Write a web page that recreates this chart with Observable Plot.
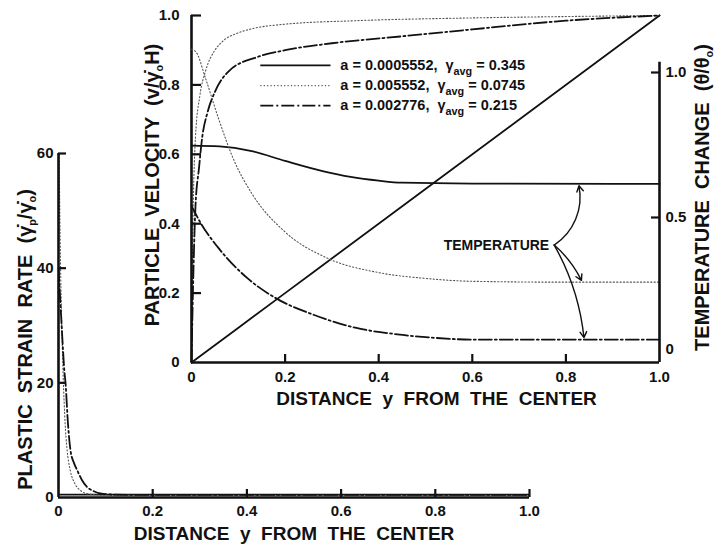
<!DOCTYPE html>
<html><head><meta charset="utf-8">
<script src="https://cdn.jsdelivr.net/npm/d3@7"></script>
<script src="https://cdn.jsdelivr.net/npm/@observablehq/plot@0.6"></script>
<style>
html,body{margin:0;padding:0;background:#fff;}
#wrap{position:relative;width:715px;height:548px;overflow:hidden;background:#fff;}
#wrap svg{position:absolute;left:0;top:0;background:transparent;overflow:visible;}
</style></head><body><div id="wrap"></div>
<script>
// ---------- data ----------
const distTicks = [0, 0.2, 0.4, 0.6, 0.8, 1.0];
const strainTicks = [0, 20, 40, 60];
const velocityTicks = [0, 0.2, 0.4, 0.6, 0.8, 1.0];
const tempTicks = [0.5, 1.0];
const tempZeroTick = [0];

// particle velocity v/(γ0 H) vs distance y
const velSolid = [[0,0],[0.2,0.2],[0.5,0.5],[1,1]];
const velDotted = [[0,0],[0.002,0.3],[0.0085,0.65],[0.018,0.77],[0.03,0.84],[0.05,0.9],[0.066,0.925],[0.1,0.95],[0.13,0.962],[0.2,0.975],[0.35,0.985],[0.6,0.993],[0.8,0.997],[1,1]];
const velDashDot = [[0,0],[0.003,0.2],[0.0085,0.45],[0.016,0.56],[0.023,0.65],[0.034,0.72],[0.05,0.78],[0.08,0.84],[0.14,0.88],[0.2,0.9],[0.3,0.92],[0.45,0.94],[0.6,0.96],[0.8,0.985],[1,1]];

// temperature change θ/θ0 vs distance y
const tempSolid = [[0,0.748],[0.06,0.745],[0.126,0.73],[0.2,0.695],[0.28,0.66],[0.34,0.64],[0.4,0.627],[0.45,0.62],[0.6,0.617],[1,0.616]];
const tempDotted = [[0,1.08],[0.01,1.07],[0.03,0.98],[0.058,0.84],[0.09,0.7],[0.13,0.58],[0.2,0.45],[0.29,0.36],[0.4,0.31],[0.5,0.29],[0.6,0.28],[0.8,0.277],[1,0.277]];
const tempDashDot = [[0,0.54],[0.02,0.48],[0.06,0.39],[0.12,0.29],[0.18,0.222],[0.26,0.165],[0.35,0.12],[0.44,0.097],[0.52,0.085],[0.6,0.079],[0.8,0.079],[1,0.079]];

// plastic strain rate γp/γ0 vs distance y
const strainSolid = [[0,0.5],[1,0.5]];
const strainDotted = [[0,70],[0.002,55],[0.004,42],[0.007,30],[0.01,21],[0.014,13],[0.018,8.5],[0.025,4.7],[0.035,2.4],[0.047,1.2],[0.065,0.6],[0.1,0.4],[1,0.4]];
const strainDashDot = [[0,40],[0.004,34],[0.008,28],[0.0125,22],[0.0149,20],[0.02,13],[0.0255,8.2],[0.033,6],[0.04,4.7],[0.05,3],[0.061,1.8],[0.075,1.1],[0.089,0.7],[0.12,0.5],[0.2,0.45],[1,0.45]];

const seriesLabels = ["a = 0.0005552,  γ_{avg} = 0.345", "a = 0.005552,  γ_{avg} = 0.0745", "a = 0.002776,  γ_{avg} = 0.215"];
const xTitle = "DISTANCE  y  FROM  THE  CENTER";
const strainTitle = "PLASTIC  STRAIN  RATE  (γ̇_{p}/γ̇_{o})";
const velTitle = "PARTICLE  VELOCITY  (v/γ̇_{o}H)";
const tempTitle = "TEMPERATURE  CHANGE  (θ/θ_{o})";
const annotationLabel = "TEMPERATURE";
const annotationPoint = [0.775, 0.405];          // where the arrows start (distance, θ/θ0)
const annotationTargetX = [0.827, 0.835, 0.839]; // distance where each arrow meets its curve

// ---------- styles / layout ----------
const INK = "#111";
const FONT = "'Liberation Sans', Arial, sans-serif";
const styleOf = {
  solid: {stroke: INK, strokeWidth: 1.8},
  dotted: {stroke: "#555", strokeWidth: 1.1, strokeDasharray: "1.2,2.2"},
  dashdot: {stroke: INK, strokeWidth: 1.8, strokeDasharray: "13,3,2,3"}
};
const W = 715, H = 548;
const fmt = d => d === 0 ? "0" : d.toFixed(1);
const baseStyle = {background: "transparent", fontFamily: FONT, fontSize: "15px", fontWeight: "bold", color: INK, overflow: "visible"};
const TITLE = 19, VTITLE = 20;
const AXW = 2.6, TKW = 2.2;

const bm = {l: 58, r: 186, t: 153, b: 51};   // bottom chart margins
const im = {l: 191, r: 56, t: 15, b: 186};   // inset (velocity) margins
const tm = {l: 191, r: 56, t: 72, b: 186};   // inset (temperature) margins
const fw = m => W - m.l - m.r, fh = m => H - m.t - m.b;

function richText(svg) {
  d3.select(svg).selectAll("text").each(function () {
    const s = this.textContent;
    if (!s.includes("_{")) return;
    const fs = parseFloat(getComputedStyle(this).fontSize) || 15;
    const el = d3.select(this);
    el.text(null);
    const re = /_\{([^}]*)\}/g;
    let last = 0, m, shifted = false;
    while ((m = re.exec(s))) {
      if (m.index > last) {
        const t = el.append("tspan").text(s.slice(last, m.index));
        if (shifted) t.attr("dy", -fs * 0.3);
        shifted = false;
      }
      const sub = el.append("tspan").attr("font-size", fs * 0.72).text(m[1]);
      if (!shifted) sub.attr("dy", fs * 0.3);
      shifted = true;
      last = re.lastIndex;
    }
    if (last < s.length) {
      const t = el.append("tspan").text(s.slice(last));
      if (shifted) t.attr("dy", -fs * 0.3);
    }
  });
  return svg;
}

const wrap = document.getElementById("wrap");

// ---------- bottom chart: plastic strain rate ----------
const bottom = Plot.plot({
  width: W, height: H,
  marginLeft: bm.l, marginRight: bm.r, marginTop: bm.t, marginBottom: bm.b,
  style: baseStyle,
  x: {domain: [0, 1]}, y: {domain: [0, 60]},
  marks: [
    Plot.line(strainSolid, {...styleOf.solid, curve: "monotone-x", clip: true}),
    Plot.line(strainDotted, {...styleOf.dotted, curve: "monotone-x", clip: true}),
    Plot.line(strainDashDot, {...styleOf.dashdot, curve: "monotone-x", clip: true}),
    Plot.ruleX([0], {y1: 0, y2: 60, stroke: INK, strokeWidth: AXW}),
    Plot.ruleY([0], {x1: 0, x2: 1, stroke: INK, strokeWidth: AXW}),
    Plot.ruleX(distTicks.filter(d => d > 0), {y1: 0, y2: 8 / fh(bm) * 60, stroke: INK, strokeWidth: TKW}),
    Plot.ruleY(strainTicks.filter(d => d > 0), {x1: 0, x2: 8 / fw(bm), stroke: INK, strokeWidth: TKW}),
    Plot.axisX(distTicks, {tickSize: 0, tickPadding: 8, tickFormat: fmt, label: null, fill: INK}),
    Plot.axisY(strainTicks, {tickSize: 0, tickPadding: 5, label: null, fill: INK}),
    Plot.text([xTitle], {frameAnchor: "bottom", textAnchor: "middle", lineAnchor: "middle", dy: 36, fontSize: TITLE, fill: INK}),
    Plot.text([strainTitle], {frameAnchor: "left", textAnchor: "middle", lineAnchor: "middle", rotate: -90, dx: -33, dy: 14, fontSize: VTITLE, fill: INK})
  ]
});
wrap.appendChild(richText(bottom));

// ---------- inset: particle velocity ----------
const legendX1 = 0.147, legendX2 = 0.297, legendTextX = 0.318, legendTop = 0.856, legendStep = 0.058;
const legendRows = seriesLabels.map((label, i) => ({label, key: ["solid", "dotted", "dashdot"][i], i}));

const inset = Plot.plot({
  width: W, height: H,
  marginLeft: im.l, marginRight: im.r, marginTop: im.t, marginBottom: im.b,
  style: baseStyle,
  x: {domain: [0, 1]}, y: {domain: [0, 1]},
  marks: [
    Plot.line(velSolid, {...styleOf.solid, curve: "monotone-x"}),
    Plot.line(velDotted, {...styleOf.dotted, curve: "monotone-x"}),
    Plot.line(velDashDot, {...styleOf.dashdot, curve: "monotone-x"}),
    ...legendRows.map(r => Plot.link([r], {x1: () => legendX1, x2: () => legendX2, y1: d => legendTop - d.i * legendStep, y2: d => legendTop - d.i * legendStep, ...styleOf[r.key]})),
    Plot.text(legendRows, {x: () => legendTextX, y: d => legendTop - d.i * legendStep, text: "label", textAnchor: "start", fontSize: 14.5, fill: INK}),
    Plot.ruleX([0], {y1: 0, y2: 1, stroke: INK, strokeWidth: AXW}),
    Plot.ruleY([0], {x1: 0, x2: 1, stroke: INK, strokeWidth: AXW}),
    Plot.ruleX(distTicks.filter(d => d > 0 && d < 1), {y1: 0, y2: 8 / fh(im), stroke: INK, strokeWidth: TKW}),
    Plot.ruleY(velocityTicks.filter(d => d > 0), {x1: 0, x2: 10 / fw(im), stroke: INK, strokeWidth: TKW}),
    Plot.axisX(distTicks, {tickSize: 0, tickPadding: 9, tickFormat: fmt, label: null, fill: INK}),
    Plot.axisY(velocityTicks, {tickSize: 0, tickPadding: 12, tickFormat: fmt, label: null, fill: INK}),
    Plot.text([xTitle], {frameAnchor: "bottom", textAnchor: "middle", lineAnchor: "middle", dx: 11, dy: 36, fontSize: TITLE, fill: INK}),
    Plot.text([velTitle], {frameAnchor: "left", textAnchor: "middle", lineAnchor: "middle", rotate: -90, dx: -39, dy: -4, fontSize: VTITLE, fill: INK})
  ]
});
wrap.appendChild(richText(inset));

// ---------- inset: temperature change (right axis) ----------
const tempSeries = [tempSolid, tempDotted, tempDashDot];
const arrows = annotationTargetX.map((x, i) => ({x, y: tempSeries[i][tempSeries[i].length - 1][1], i}));

const temp = Plot.plot({
  width: W, height: H,
  marginLeft: tm.l, marginRight: tm.r, marginTop: tm.t, marginBottom: tm.b,
  style: baseStyle,
  x: {domain: [0, 1], axis: null}, y: {domain: [0, 1], axis: null},
  marks: [
    Plot.line(tempSolid, {...styleOf.solid, curve: "monotone-x"}),
    Plot.line(tempDotted, {...styleOf.dotted, curve: "monotone-x"}),
    Plot.line(tempDashDot, {...styleOf.dashdot, curve: "monotone-x"}),
    Plot.ruleX([1], {y1: 0, y2: 1.035, stroke: INK, strokeWidth: AXW}),
    Plot.ruleY(tempTicks, {x1: 1 - 8 / fw(tm), x2: 1, stroke: INK, strokeWidth: TKW}),
    Plot.axisY(tempTicks, {anchor: "right", tickSize: 0, tickPadding: 6, tickFormat: fmt, label: null, fill: INK}),
    Plot.axisY(tempZeroTick, {anchor: "right", tickSize: 0, tickPadding: 6, dy: -13, tickFormat: fmt, label: null, fill: INK}),
    Plot.text([tempTitle], {frameAnchor: "right", textAnchor: "middle", lineAnchor: "middle", rotate: -90, dx: 43, dy: -20, fontSize: VTITLE, fill: INK}),
    Plot.text([annotationLabel], {x: () => annotationPoint[0], y: () => annotationPoint[1], dx: -5, textAnchor: "end", fontSize: 14, fill: INK}),
    Plot.arrow(arrows.filter(d => d.i === 0), {x1: () => annotationPoint[0], y1: () => annotationPoint[1], x2: "x", y2: "y", bend: -35, insetEnd: 2, headLength: 7, stroke: INK, strokeWidth: 1.4}),
    Plot.arrow(arrows.filter(d => d.i > 0), {x1: () => annotationPoint[0], y1: () => annotationPoint[1], x2: "x", y2: "y", bend: 12, insetEnd: 2, headLength: 7, stroke: INK, strokeWidth: 1.4})
  ]
});
wrap.appendChild(richText(temp));
</script>
</body></html>
